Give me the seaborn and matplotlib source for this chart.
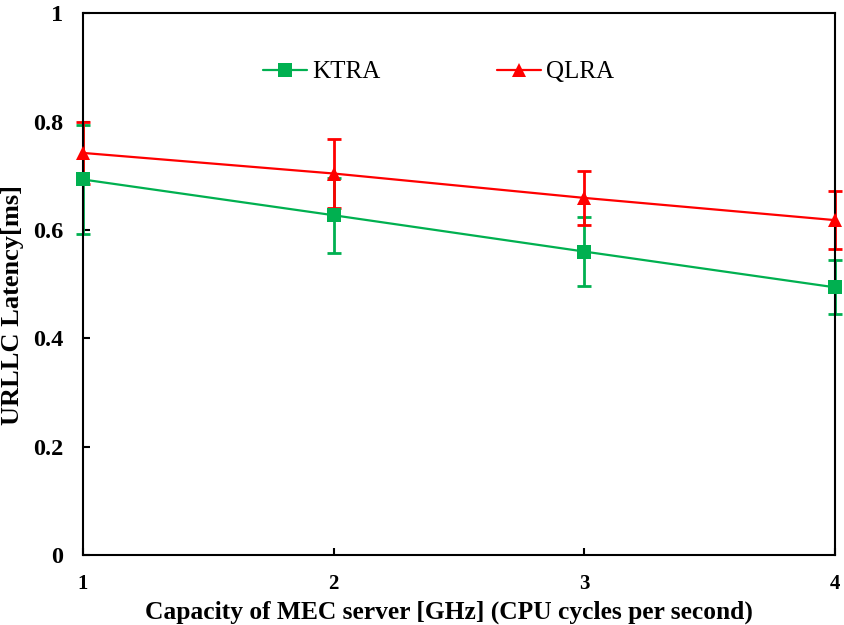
import matplotlib
matplotlib.use("Agg")
import matplotlib.pyplot as plt
import seaborn as sns
import pandas as pd

capacity = [1, 2, 3, 4]
ktra = [0.693, 0.627, 0.560, 0.494]
ktra_err = [0.100, 0.069, 0.063, 0.050]
qlra = [0.742, 0.704, 0.659, 0.618]
qlra_err = [0.058, 0.064, 0.050, 0.054]
y_ticks = [0, 0.2, 0.4, 0.6, 0.8, 1]
y_tick_labels = ["0", "0.2", "0.4", "0.6", "0.8", "1"]

sns.set_theme(style="ticks")
plt.rcParams['font.family'] = ['Liberation Serif', 'DejaVu Serif']
for k in ["text.color", "axes.labelcolor", "xtick.color", "ytick.color", "axes.edgecolor"]:
    plt.rcParams[k] = "black"

df = pd.DataFrame({
    "x": capacity * 2,
    "y": ktra + qlra,
    "series": ["KTRA"] * 4 + ["QLRA"] * 4,
})

fig = plt.figure(figsize=(8.45, 6.25), dpi=100)
ax = fig.add_axes([0.0982, 0.112, 0.8898, 0.867])

green = "#00B050"
red = "#FF0000"

for vals, errs, col in [(ktra, ktra_err, green), (qlra, qlra_err, red)]:
    eb = ax.errorbar(capacity, vals, yerr=errs, fmt="none", ecolor=col,
                     elinewidth=2, capsize=5, capthick=2, zorder=2)
    for art in eb.lines[1] + eb.lines[2]:
        art.set_clip_on(False)

sns.lineplot(data=df, x="x", y="y", hue="series", style="series",
             palette={"KTRA": green, "QLRA": red},
             markers={"KTRA": "s", "QLRA": "^"}, dashes=False,
             markersize=9.5, linewidth=1.6, markeredgewidth=0,
             ax=ax, zorder=3)
for ln in ax.lines:
    ln.set_clip_on(False)

ax.set_xlim(1, 4)
ax.set_ylim(0, 1)
ax.set_xticks(capacity)
ax.set_xticklabels([str(c) for c in capacity], fontsize=15, fontweight="bold")
ax.set_yticks(y_ticks)
ax.set_yticklabels(y_tick_labels, fontsize=17.5, fontweight="bold")
for s in ax.spines.values():
    s.set_linewidth(1.5)
    s.set_color("black")
ax.tick_params(direction="in", length=5, width=1.5)
ax.tick_params(axis="x", pad=14)
ax.tick_params(axis="y", pad=14)

ax.set_xlabel("Capacity of MEC server [GHz] (CPU cycles per second)",
              fontsize=18.4, fontweight="bold")
ax.xaxis.set_label_coords(0.487, -0.084)
ax.set_ylabel("URLLC Latency[ms]", fontsize=19, fontweight="bold")
ax.yaxis.set_label_coords(-0.078, 0.461)

leg = ax.legend(loc="center", bbox_to_anchor=(0.473, 0.891), ncol=2,
                frameon=False, fontsize=18, columnspacing=4.7,
                handlelength=1.75, handletextpad=0.2)

fig.savefig("out.png", dpi=100)
